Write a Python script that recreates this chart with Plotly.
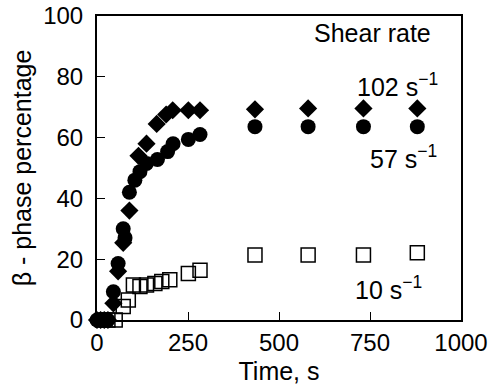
import plotly.graph_objects as go

# 102 s^-1 (filled diamonds)
t_102 = [0, 10, 20, 30, 45, 58, 72, 89, 114, 136, 164, 190, 208, 251, 283, 434, 580, 732, 880]
b_102 = [0, 0, 0, 0, 5.5, 16, 25.4, 36, 54, 58, 64.5, 67.6, 69, 69, 69, 69.3, 69.6, 69.6, 69.6]

# 57 s^-1 (filled circles)
t_57 = [0, 10, 20, 30, 45, 58, 72, 77, 89, 104, 118, 136, 166, 194, 209, 251, 283, 434, 580, 732, 880]
b_57 = [0, 0, 0, 0, 9.3, 18.6, 30, 27, 42, 46, 48.8, 51.5, 52.8, 55.4, 58, 59.4, 61, 63.6, 63.6, 63.6, 63.6]

# 10 s^-1 (open squares)
t_10 = [-5, 15, 30, 50, 72, 86, 100, 118, 136, 159, 178, 200, 251, 283, 434, 580, 732, 880]
b_10 = [0, 0, 0, 0, 4.4, 6.6, 11.5, 11, 11.5, 12, 12.7, 13.2, 15.3, 16.4, 21.4, 21.4, 21.4, 22.1]

x_ticks = [0, 250, 500, 750, 1000]
y_ticks = [0, 20, 40, 60, 80, 100]

FONT = "Liberation Sans, Arial, sans-serif"

fig = go.Figure()
fig.add_trace(go.Scatter(x=t_10, y=b_10, mode="markers", cliponaxis=False,
                         marker=dict(symbol="square-open", size=14, color="black",
                                     line=dict(width=1.5, color="black"))))
fig.add_trace(go.Scatter(x=t_57, y=b_57, mode="markers", cliponaxis=False,
                         marker=dict(symbol="circle", size=15, color="black")))
fig.add_trace(go.Scatter(x=t_102, y=b_102, mode="markers", cliponaxis=False,
                         marker=dict(symbol="diamond", size=14, color="black")))

annots = [
    dict(x=758, y=94.4, text="Shear rate", xanchor="center"),
    dict(x=709, y=77.3, text="102 s<sup>−1</sup>", xanchor="left"),
    dict(x=745, y=53.7, text="57 s<sup>−1</sup>", xanchor="left"),
    dict(x=702, y=10.5, text="10 s<sup>−1</sup>", xanchor="left"),
]
for a in annots:
    fig.add_annotation(x=a["x"], y=a["y"], text=a["text"], xanchor=a["xanchor"],
                       yanchor="middle", showarrow=False,
                       font=dict(family=FONT, size=25, color="black"))

fig.update_layout(
    width=491, height=385,
    margin=dict(l=97, r=30, t=16, b=65),
    paper_bgcolor="white", plot_bgcolor="white",
    showlegend=False,
    font=dict(family=FONT, size=24, color="black"),
    xaxis=dict(range=[0, 1000], tickvals=x_ticks, ticktext=[str(v) for v in x_ticks],
               showline=True, linewidth=2, linecolor="black", mirror=True,
               ticks="inside", ticklen=8, tickwidth=1, tickcolor="black",
               showgrid=False, zeroline=False, ticklabelstandoff=0, automargin=False,
               title=dict(text="Time, s", standoff=20,
                          font=dict(family=FONT, size=25))),
    yaxis=dict(range=[0, 100], tickvals=y_ticks, ticktext=[str(v) for v in y_ticks],
               showline=True, linewidth=2, linecolor="black", mirror=True,
               ticks="inside", ticklen=8, tickwidth=1, tickcolor="black",
               showgrid=False, zeroline=False, ticklabelstandoff=7, automargin=False,
               title=dict(text="β - phase percentage", standoff=4,
                          font=dict(family=FONT, size=25))),
)

fig.write_html("out.html")
